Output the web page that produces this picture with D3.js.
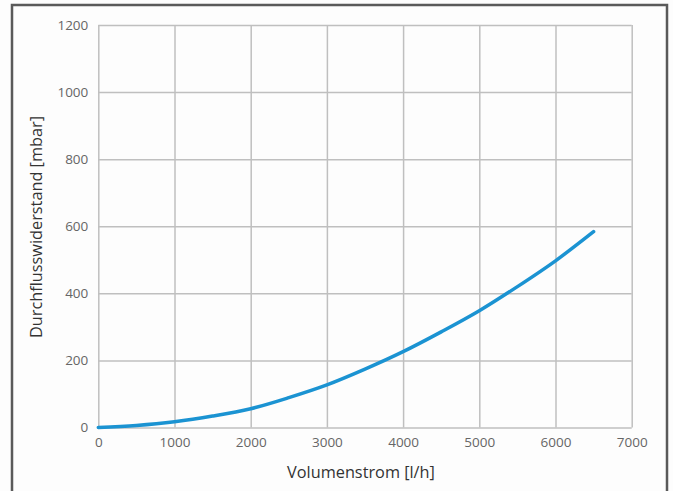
<!DOCTYPE html>
<html><head><meta charset="utf-8">
<script src="https://cdn.jsdelivr.net/npm/d3@7"></script>
<style>
html,body{margin:0;padding:0;background:#fdfdfd;}
svg{display:block;}
</style></head>
<body>
<script>
const flow = [0, 500, 1000, 1500, 2000, 2500, 3000, 3500, 4000, 4500, 5000, 5500, 6000, 6500];
const pressure = [0, 6, 17, 34, 56, 89, 127, 174, 226, 285, 348, 420, 497, 584];
const xTicks = [0, 1000, 2000, 3000, 4000, 5000, 6000, 7000];
const yTicks = [0, 200, 400, 600, 800, 1000, 1200];
const xTitle = "Volumenstrom [l/h]";
const yTitle = "Durchflusswiderstand [mbar]";

const W = 673, H = 491;
const m = {left: 98.3, right: 631.7, top: 25, bottom: 427.5};
const svg = d3.select("body").append("svg").attr("width", W).attr("height", H);
svg.append("rect").attr("width", W).attr("height", H).attr("fill", "#fdfdfd");
svg.append("rect").attr("x", 12).attr("y", 5).attr("width", 655).attr("height", 500)
  .attr("fill", "none").attr("stroke", "#5a5a5a").attr("stroke-width", 2.5);

const x = d3.scaleLinear().domain([0, 7000]).range([m.left, m.right]);
const y = d3.scaleLinear().domain([0, 1200]).range([m.bottom, m.top]);
const font = "'Open Sans', 'Noto Sans', sans-serif";

const xAxis = svg.append("g").attr("transform", `translate(0,${m.bottom})`)
  .call(d3.axisBottom(x).tickValues(xTicks).tickSize(-(m.bottom - m.top)).tickPadding(10).tickFormat(d3.format("d")));
const yAxis = svg.append("g").attr("transform", `translate(${m.left},0)`)
  .call(d3.axisLeft(y).tickValues(yTicks).tickSize(-(m.right - m.left)).tickPadding(10).tickFormat(d3.format("d")));
[xAxis, yAxis].forEach(g => {
  g.select(".domain").remove();
  g.selectAll("line").attr("stroke", "#bfbfbf").attr("stroke-width", 1.5);
  g.selectAll("text").attr("fill", "#666").style("font-family", font).style("font-size", "13.5px");
});

const line = d3.line().x((d, i) => x(flow[i])).y(d => y(d)).curve(d3.curveMonotoneX);
svg.append("path").datum(pressure).attr("d", line)
  .attr("fill", "none").attr("stroke", "#1b93d2").attr("stroke-width", 3.5).attr("stroke-linecap", "round");

svg.append("text").attr("x", 361).attr("y", 478).attr("text-anchor", "middle")
  .attr("fill", "#333").style("font-family", font).style("font-size", "16.3px").text(xTitle);
svg.append("text").attr("transform", `translate(42,227) rotate(-90)`).attr("text-anchor", "middle")
  .attr("fill", "#333").style("font-family", font).style("font-size", "16.3px").text(yTitle);
</script>
</body></html>
